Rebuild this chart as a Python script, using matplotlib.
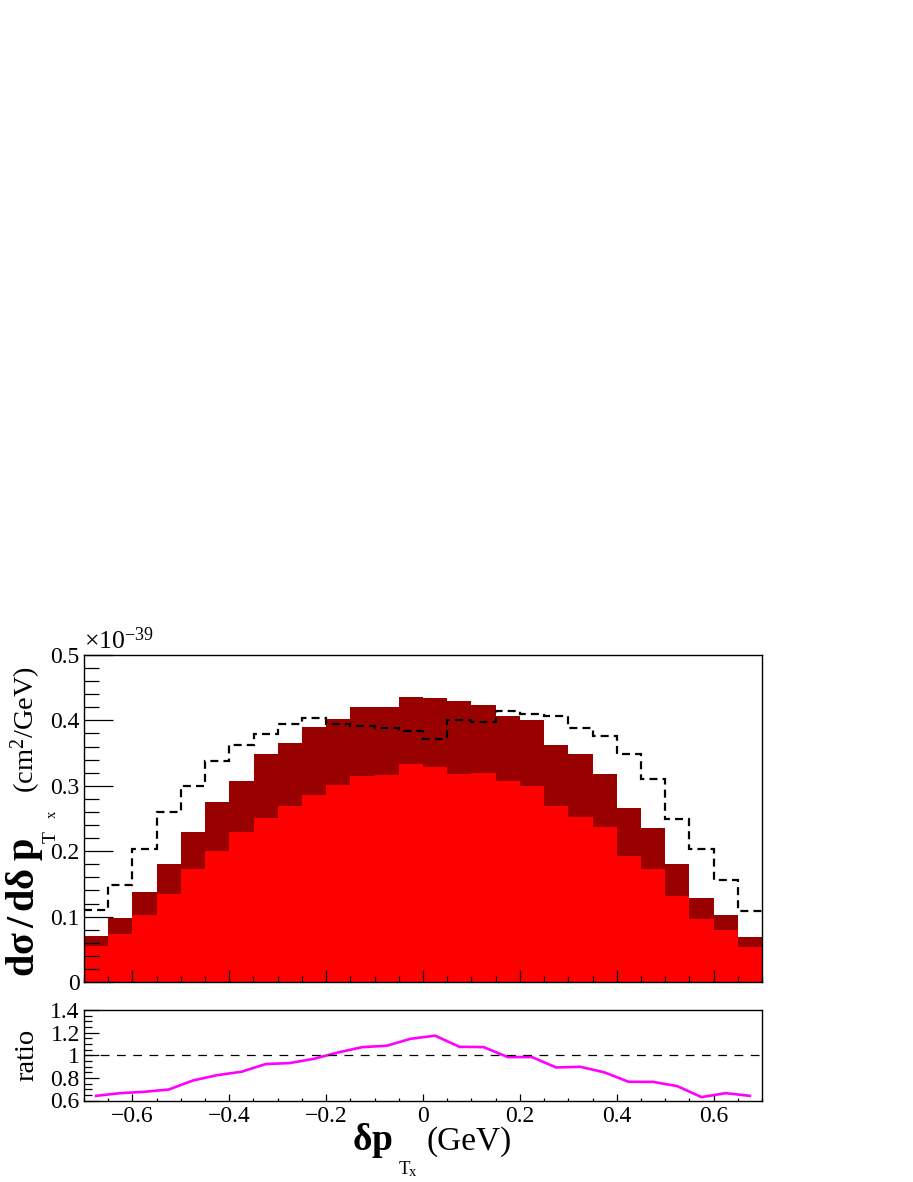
import numpy as np
import matplotlib
matplotlib.use("Agg")
import matplotlib.pyplot as plt
from matplotlib.ticker import MultipleLocator, FixedLocator

plt.rcParams['font.family'] = ['Liberation Serif', 'DejaVu Serif']
plt.rcParams['mathtext.fontset'] = 'custom'
plt.rcParams['mathtext.rm'] = 'Liberation Serif'
plt.rcParams['mathtext.bf'] = 'Liberation Serif:bold'
plt.rcParams['mathtext.it'] = 'Liberation Serif:italic'

# ---------------- data ----------------
bin_edges = np.round(np.arange(-0.70, 0.7001, 0.05), 3)

# total (dark red), units of 1e-39 cm^2/GeV
total = [0.070, 0.098, 0.137, 0.181, 0.230, 0.275, 0.308, 0.348, 0.366, 0.390,
         0.402, 0.420, 0.421, 0.436, 0.435, 0.429, 0.424, 0.406, 0.401, 0.363,
         0.348, 0.318, 0.266, 0.235, 0.181, 0.128, 0.103, 0.069]
# component (bright red)
component = [0.055, 0.074, 0.103, 0.135, 0.173, 0.201, 0.230, 0.251, 0.269, 0.286,
             0.301, 0.315, 0.317, 0.334, 0.328, 0.318, 0.320, 0.308, 0.299, 0.269,
             0.252, 0.237, 0.193, 0.173, 0.132, 0.096, 0.080, 0.054]
# reference (dashed)
reference = [0.110, 0.149, 0.203, 0.260, 0.299, 0.338, 0.363, 0.379, 0.394, 0.403,
             0.395, 0.391, 0.389, 0.384, 0.372, 0.401, 0.398, 0.414, 0.410, 0.407,
             0.388, 0.376, 0.349, 0.310, 0.250, 0.203, 0.156, 0.108]
# ratio (bottom panel)
ratio = [0.641, 0.665, 0.677, 0.697, 0.777, 0.824, 0.854, 0.922, 0.931, 0.969,
         1.025, 1.072, 1.084, 1.146, 1.173, 1.075, 1.072, 0.984, 0.984, 0.892,
         0.898, 0.848, 0.765, 0.765, 0.727, 0.630, 0.665, 0.641]

x_ticks = [-0.6, -0.4, -0.2, 0.0, 0.2, 0.4, 0.6]
x_ticklabels = ['\u22120.6', '\u22120.4', '\u22120.2', '0', '0.2', '0.4', '0.6']
y_ticks = [0, 0.1, 0.2, 0.3, 0.4, 0.5]
y_ticklabels = ['0', '0.1', '0.2', '0.3', '0.4', '0.5']
r_ticks = [0.6, 0.8, 1.0, 1.2, 1.4]
r_ticklabels = ['0.6', '0.8', '1', '1.2', '1.4']

# ---------------- figure ----------------
W, H = 913, 1182
fig = plt.figure(figsize=(W / 100, H / 100), dpi=100)

def box(x0, y0, x1, y1):
    return [x0 / W, 1 - y1 / H, (x1 - x0) / W, (y1 - y0) / H]

def fx(px):
    return px / W

def fy(py):
    return 1 - py / H

ax = fig.add_axes(box(84, 655, 762, 982))
axr = fig.add_axes(box(84, 1010, 762, 1100.5))

centers = 0.5 * (bin_edges[:-1] + bin_edges[1:])

ax.stairs(total, bin_edges, fill=True, color='#990000', lw=0)
ax.stairs(component, bin_edges, fill=True, color='#ff0000', lw=0)
ax.stairs(reference, bin_edges, fill=False, baseline=None, color='black',
          lw=1.6, linestyle=(0, (3.6, 2.3)))

ax.set_xlim(-0.7, 0.7)
ax.set_ylim(0, 0.5)

axr.plot(centers, ratio, color='#ff00ff', lw=1.9)
axr.axhline(1.0, color='black', lw=0.9, linestyle=(0, (7, 6)))
axr.set_xlim(-0.7, 0.7)
axr.set_ylim(0.6, 1.4)

tick_fs = 17
for a in (ax, axr):
    for s in a.spines.values():
        s.set_linewidth(1.0)
        s.set_color('black')
    a.tick_params(which='both', direction='in', top=False, right=False,
                  width=0.9, color='black', labelsize=tick_fs)
    a.xaxis.set_major_locator(FixedLocator(x_ticks))
    a.xaxis.set_minor_locator(MultipleLocator(0.05))

ax.set_xticklabels([])
ax.yaxis.set_major_locator(FixedLocator(y_ticks))
ax.set_yticklabels(y_ticklabels)
ax.yaxis.set_minor_locator(MultipleLocator(0.02))
ax.tick_params(axis='y', which='major', length=21, pad=3)
ax.tick_params(axis='y', which='minor', length=11)
ax.tick_params(axis='x', which='major', length=9)
ax.tick_params(axis='x', which='minor', length=4.5)

axr.set_xticklabels(x_ticklabels)
axr.yaxis.set_major_locator(FixedLocator(r_ticks))
axr.set_yticklabels(r_ticklabels)
axr.yaxis.set_minor_locator(MultipleLocator(0.05))
axr.tick_params(axis='y', which='major', length=11, pad=3)
axr.tick_params(axis='y', which='minor', length=6)
axr.tick_params(axis='x', which='major', length=5, pad=4)
axr.tick_params(axis='x', which='minor', length=2.5)

# exponent label
fig.text(fx(84), fy(649), '\u00d710$^{\\mathrm{\u221239}}$', fontsize=18.5,
         ha='left', va='baseline')

# y label (top): bold part, subscripts, unit
fig.text(fx(34), fy(977), r'$\mathbf{dσ\,/\,dδ\;p}$',
         fontsize=29, rotation=90, rotation_mode='anchor', ha='left', va='baseline')
fig.text(fx(55.5), fy(843), 'T', fontsize=14, rotation=90,
         rotation_mode='anchor', ha='left', va='baseline')
fig.text(fx(56), fy(818), 'x', fontsize=10.5, rotation=90,
         rotation_mode='anchor', ha='left', va='baseline')
fig.text(fx(34), fy(793), '(cm$^{2}$/GeV)', fontsize=20.5, rotation=90,
         rotation_mode='anchor', ha='left', va='baseline')

# y label (ratio)
fig.text(fx(33), fy(1055), 'ratio', fontsize=20.5, rotation=90,
         rotation_mode='anchor', ha='center', va='baseline')

# x label
fig.text(fx(352), fy(1150), r'$\mathbf{δp}$', fontsize=27, ha='left', va='baseline')
fig.text(fx(399), fy(1174), 'T', fontsize=13.5, ha='left', va='baseline')
fig.text(fx(408.5), fy(1175.5), 'x', fontsize=10.5, ha='left', va='baseline')
fig.text(fx(426), fy(1150), '(GeV)', fontsize=24, ha='left', va='baseline')

fig.savefig('out.png', dpi=100)
